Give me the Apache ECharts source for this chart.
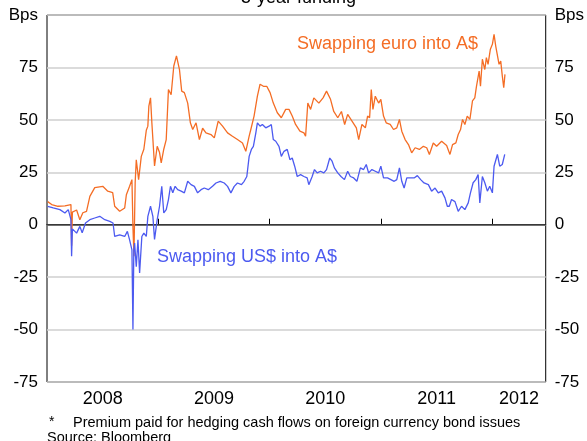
<!DOCTYPE html>
<html>
<head>
<meta charset="utf-8">
<script src="https://cdn.jsdelivr.net/npm/echarts@6/dist/echarts.min.js"></script>
<style>
  html, body { margin: 0; padding: 0; background: #fff; }
  #chart { width: 587px; height: 441px; }
</style>
</head>
<body>
<div id="chart"></div>
<script>
// dates are decimal years
const euroDates = [2008.006, 2008.042, 2008.098, 2008.161, 2008.215, 2008.221, 2008.228, 2008.244, 2008.266, 2008.295,
  2008.322, 2008.355, 2008.385, 2008.429, 2008.501, 2008.546, 2008.590, 2008.608, 2008.653, 2008.698,
  2008.713, 2008.742, 2008.763, 2008.772, 2008.781, 2008.792, 2008.802, 2008.823, 2008.847, 2008.870,
  2008.892, 2008.906, 2008.915, 2008.930, 2008.942, 2008.966, 2008.990, 2009.011, 2009.026, 2009.049,
  2009.071, 2009.091, 2009.115, 2009.139, 2009.163, 2009.190, 2009.210, 2009.234, 2009.264, 2009.288,
  2009.309, 2009.339, 2009.369, 2009.398, 2009.428, 2009.473, 2009.503, 2009.538, 2009.577, 2009.622,
  2009.666, 2009.711, 2009.756, 2009.786, 2009.816, 2009.831, 2009.860, 2009.890, 2009.914, 2009.944,
  2009.974, 2010.004, 2010.033, 2010.069, 2010.105, 2010.144, 2010.174, 2010.203, 2010.233, 2010.272,
  2010.308, 2010.323, 2010.343, 2010.368, 2010.397, 2010.442, 2010.480, 2010.511, 2010.547, 2010.576,
  2010.612, 2010.645, 2010.674, 2010.701, 2010.740, 2010.779, 2010.800, 2010.829, 2010.860, 2010.880,
  2010.898, 2010.913, 2010.928, 2010.949, 2010.979, 2010.999, 2011.023, 2011.047, 2011.083, 2011.113,
  2011.142, 2011.166, 2011.187, 2011.217, 2011.247, 2011.276, 2011.307, 2011.345, 2011.381, 2011.411,
  2011.435, 2011.470, 2011.500, 2011.545, 2011.590, 2011.620, 2011.643, 2011.673, 2011.694, 2011.715,
  2011.733, 2011.754, 2011.775, 2011.799, 2011.822, 2011.843, 2011.858, 2011.882, 2011.894, 2011.911,
  2011.933, 2011.947, 2011.962, 2011.983, 2012.001, 2012.016, 2012.031, 2012.046, 2012.061, 2012.076,
  2012.090, 2012.103, 2012.114];
const euroValues = [11, 9.6, 8.8, 9, 9.6, -10, 6, 5.7, 7, 2.4,
  5.7, 6.4, 13.5, 17.7, 18.3, 16, 15.3, 8.8, 6.4, 8,
  14.3, 18.3, 21.5, -0.8, -15, 20, 31, 21.5, 32.6, 36,
  45, 47, 56.6, 60.5, 48.6, 28, 37.4, 34.4, 29.5, 36,
  40.6, 64.5, 62, 75.7, 80.5, 74, 63.7, 63, 58, 48.6,
  45.4, 48.6, 40.6, 46, 43.8, 43, 41.4, 49.4, 47, 43.8,
  42.2, 40.6, 39, 35, 42.2, 45.4, 51.8, 61.3, 67, 66,
  66, 63, 58, 53.4, 51, 55, 55, 51.8, 47.8, 44.6,
  43.8, 42.2, 58, 55, 60.5, 58, 60.5, 63.7, 59.8, 54,
  51, 54, 47.8, 52.6, 49.4, 46.2, 40.6, 47.8, 46.2, 51.8,
  51, 64.5, 55, 61.3, 58, 59.8, 51.8, 48.6, 47.8, 45.4,
  46.2, 50.2, 44.6, 40.6, 38.2, 34.3, 36.7, 35.9, 37.4, 36.7,
  33.5, 39, 37.4, 39.8, 37.8, 33.5, 38.2, 39, 43, 45.4,
  50.2, 47.8, 51.8, 50.2, 59, 60.5, 66, 73.3, 66, 78.9,
  74, 79.7, 76.5, 83.7, 86, 90.8, 85.2, 86, 76.5, 78,
  71, 65.3, 71.7];

const usdDates = [2008.006, 2008.056, 2008.116, 2008.161, 2008.191, 2008.215, 2008.221, 2008.228, 2008.244, 2008.266,
  2008.295, 2008.316, 2008.346, 2008.385, 2008.429, 2008.474, 2008.519, 2008.564, 2008.593, 2008.608,
  2008.653, 2008.698, 2008.722, 2008.742, 2008.763, 2008.772, 2008.780, 2008.787, 2008.802, 2008.817,
  2008.832, 2008.852, 2008.870, 2008.892, 2008.906, 2008.930, 2008.951, 2008.966, 2008.990, 2009.011,
  2009.031, 2009.049, 2009.071, 2009.091, 2009.109, 2009.130, 2009.151, 2009.174, 2009.205, 2009.234,
  2009.264, 2009.294, 2009.324, 2009.353, 2009.384, 2009.413, 2009.449, 2009.487, 2009.518, 2009.556,
  2009.592, 2009.622, 2009.652, 2009.682, 2009.711, 2009.747, 2009.771, 2009.795, 2009.816, 2009.836,
  2009.854, 2009.876, 2009.890, 2009.914, 2009.935, 2009.965, 2009.995, 2010.015, 2010.033, 2010.055,
  2010.084, 2010.105, 2010.129, 2010.158, 2010.182, 2010.203, 2010.225, 2010.248, 2010.278, 2010.308,
  2010.337, 2010.352, 2010.382, 2010.403, 2010.427, 2010.457, 2010.487, 2010.511, 2010.540, 2010.561,
  2010.582, 2010.612, 2010.641, 2010.672, 2010.701, 2010.725, 2010.755, 2010.784, 2010.815, 2010.844,
  2010.868, 2010.889, 2010.919, 2010.949, 2010.979, 2010.999, 2011.023, 2011.059, 2011.089, 2011.119,
  2011.142, 2011.166, 2011.187, 2011.208, 2011.232, 2011.262, 2011.298, 2011.327, 2011.357, 2011.387,
  2011.426, 2011.455, 2011.486, 2011.515, 2011.545, 2011.575, 2011.596, 2011.614, 2011.634, 2011.665,
  2011.694, 2011.724, 2011.754, 2011.784, 2011.804, 2011.828, 2011.852, 2011.873, 2011.888, 2011.911,
  2011.933, 2011.956, 2011.977, 2012.001, 2012.016, 2012.031, 2012.046, 2012.067, 2012.090, 2012.112];
const usdValues = [8.8, 8, 7.2, 5.6, 7.2, 2.4, -15, -2, -1.6, -4,
  -0.8, -3.8, 0.8, 2.4, 3.2, 4, 2.4, 1.6, 0.8, -5.6,
  -4.8, -5.6, -3.2, -7.2, -12, -50, -12, -8.8, -20, -7.2,
  -23, -5.6, -4, -5.6, 4, 8.8, 4, -7, 2.4, 8.8,
  18.3, 5.6, 7.2, 12, 18.3, 15.2, 18.3, 16.7, 16, 15.2,
  20.7, 19.1, 18.3, 15.2, 16.7, 17.5, 16.7, 18.3, 19.9, 20.7,
  19.9, 18.3, 15.2, 18.3, 19.9, 19.1, 20.7, 23, 32.6, 35.9,
  37.4, 43.8, 48.6, 47, 47.8, 46.2, 47, 47.8, 40.6, 39.8,
  37.4, 32.6, 35, 35.9, 31, 31.8, 27.9, 23, 23.9, 23,
  22.3, 19.1, 23, 26.3, 24.7, 25.5, 24.7, 26.3, 31.8, 30.3,
  27.1, 24.7, 23, 21.5, 25.5, 23, 22.3, 20.7, 27.1, 26.3,
  28.7, 24.7, 26.3, 25.5, 24.7, 27.9, 22.3, 22.3, 21.5, 20.7,
  21.5, 27.1, 20.7, 17.5, 22.3, 22.3, 22.3, 23.4, 21.5, 19.9,
  19.1, 16, 17.5, 15.2, 16, 12.8, 8.8, 8.8, 12, 11,
  6.4, 8.8, 7.2, 10.4, 15.2, 20, 21.5, 23.9, 10.4, 23,
  20, 16, 18.3, 15.2, 27.9, 28.7, 33.5, 27.9, 28.7, 33.5];

const yearTicks = [2009, 2010, 2011, 2012];
const yearLabelPos = [2008.5, 2009.5, 2010.5, 2011.5, 2012.24];

const font = 'Liberation Sans, Arial, sans-serif';
const orange = '#f46d25';
const blue = '#4c5af0';

const chart = echarts.init(document.getElementById('chart'));

const yAxisBase = {
  type: 'value',
  min: -75,
  max: 100,
  interval: 25,
  axisLine: { show: false },
  axisTick: { show: false },
  axisLabel: {
    color: '#000',
    fontFamily: font,
    fontSize: 17,
    margin: 9,
    formatter: v => (v === 100 ? 'Bps' : String(v))
  }
};

chart.setOption({
  animation: false,
  grid: {
    left: 47, right: 39, top: 15, bottom: 59,
    show: true, borderColor: '#000', borderWidth: 1, backgroundColor: 'transparent'
  },
  xAxis: {
    type: 'value',
    min: 2008,
    max: 2012.48,
    axisLine: { show: true, lineStyle: { color: '#000', width: 1 } },
    axisTick: {
      show: true, inside: true, length: 6,
      customValues: yearTicks,
      lineStyle: { color: '#000' }
    },
    axisLabel: {
      customValues: yearLabelPos,
      formatter: v => String(Math.floor(v)),
      color: '#000', fontFamily: font, fontSize: 18, margin: 8
    },
    splitLine: { show: false }
  },
  yAxis: [
    Object.assign({}, yAxisBase, {
      position: 'left',
      splitLine: { show: true, lineStyle: { color: '#cfcfcf', width: 1.5 } }
    }),
    Object.assign({}, yAxisBase, {
      position: 'right',
      splitLine: { show: false }
    })
  ],
  series: [
    {
      name: 'Swapping euro into A$',
      type: 'line',
      showSymbol: false,
      data: euroDates.map((d, i) => [d, euroValues[i]]),
      lineStyle: { color: orange, width: 1.3 },
      itemStyle: { color: orange },
      z: 3,
      markLine: {
        silent: true,
        symbol: 'none',
        label: { show: false },
        lineStyle: { color: '#4d4d4d', width: 1.5, type: 'solid' },
        data: [{ yAxis: 0 }],
        z: 1
      }
    },
    {
      name: 'Swapping US$ into A$',
      type: 'line',
      showSymbol: false,
      data: usdDates.map((d, i) => [d, usdValues[i]]),
      lineStyle: { color: blue, width: 1.3 },
      itemStyle: { color: blue },
      z: 4
    }
  ],
  graphic: [
    {
      type: 'text', left: 241, top: -11,
      style: { text: '5-year funding', fill: '#000', font: '18px ' + font }
    },
    {
      type: 'text', left: 297, top: 35,
      style: { text: 'Swapping euro into A$', fill: orange, font: '18px ' + font }
    },
    {
      type: 'text', left: 157, top: 248,
      style: { text: 'Swapping US$ into A$', fill: blue, font: '18px ' + font }
    },
    {
      type: 'text', left: 49, top: 415,
      style: { text: '*', fill: '#000', font: '14px ' + font }
    },
    {
      type: 'text', left: 73, top: 415,
      style: { text: 'Premium paid for hedging cash flows on foreign currency bond issues', fill: '#000', font: '14.5px ' + font }
    },
    {
      type: 'text', left: 47, top: 430,
      style: { text: 'Source: Bloomberg', fill: '#000', font: '14.5px ' + font }
    }
  ]
});
</script>
</body>
</html>
